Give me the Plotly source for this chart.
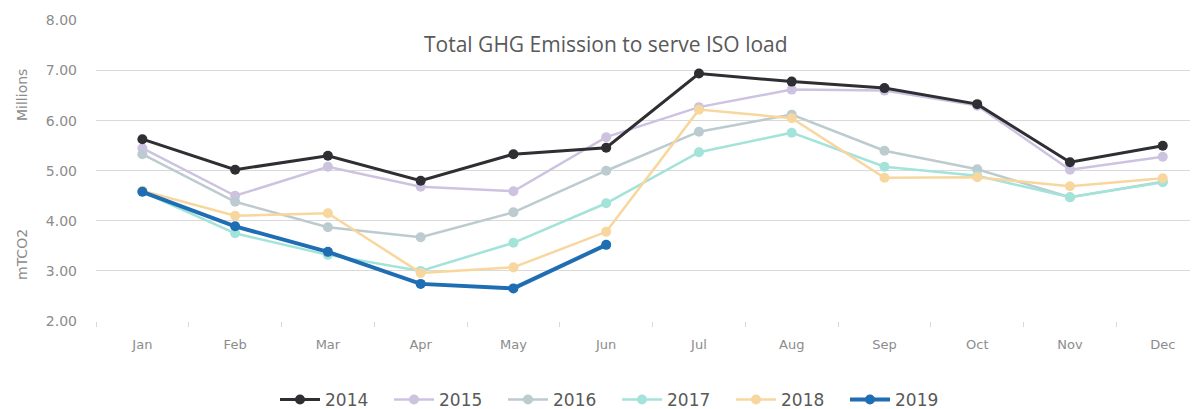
import plotly.graph_objects as go

months = ['Jan', 'Feb', 'Mar', 'Apr', 'May', 'Jun',
          'Jul', 'Aug', 'Sep', 'Oct', 'Nov', 'Dec']

y2014 = [5.63, 5.02, 5.30, 4.80, 5.33, 5.46, 6.94, 6.78, 6.65, 6.33, 5.17, 5.50]
y2015 = [5.45, 4.50, 5.08, 4.68, 4.59, 5.67, 6.27, 6.62, 6.60, 6.30, 5.02, 5.28]
y2016 = [5.33, 4.38, 3.87, 3.67, 4.17, 5.00, 5.78, 6.12, 5.40, 5.03, 4.47, 4.78]
y2017 = [4.58, 3.75, 3.32, 3.00, 3.56, 4.35, 5.37, 5.76, 5.08, 4.90, 4.47, 4.77]
y2018 = [4.60, 4.10, 4.15, 2.96, 3.07, 3.78, 6.22, 6.05, 4.86, 4.87, 4.69, 4.85]
y2019 = [4.58, 3.89, 3.38, 2.74, 2.65, 3.52]

# drawing order: pale years first, dark 2014 last so it sits on top
series = [
    ('2015', y2015, '#cdc3e0', 2.5),
    ('2016', y2016, '#bccbd0', 2.5),
    ('2017', y2017, '#a3e3da', 2.5),
    ('2018', y2018, '#f8d79e', 2.5),
    ('2019', y2019, '#1f6db3', 4),
    ('2014', y2014, '#2e2e33', 3),
]

fig = go.Figure()
for name, vals, color, width in series:
    fig.add_trace(go.Scatter(
        x=months[:len(vals)], y=vals, mode='lines+markers', name=name,
        line=dict(color=color, width=width),
        marker=dict(color=color, size=10),
        legendrank=int(name)
    ))

# the page body shifts the figure by 8px; plot area on the page is
# x 96..1198, y 20..321. Bottom margin is generous so the legend
# never pushes the plot area (the window just crops the rest).
PW, PH = 1102, 301


def px(x):
    return (x - 96) / PW


def py(y):
    return (321 - y) / PH


fig.update_layout(
    width=1190, height=420,
    margin=dict(l=88, r=0, t=12, b=107),
    paper_bgcolor='white', plot_bgcolor='white',
    font=dict(family='DejaVu Sans, sans-serif', color='#8c8c8c'),
    showlegend=True,
    legend=dict(
        orientation='h', x=px(617), xanchor='center', y=py(400), yanchor='middle',
        font=dict(size=17, color='#595959'), itemwidth=40,
        entrywidth=59, traceorder='normal'
    ),
    xaxis=dict(
        range=[-0.5, 11.38], showgrid=False, showline=False,
        ticks='outside', tickson='boundaries', ticklen=5, tickcolor='#d9d9d9',
        tickfont=dict(size=13, color='#8c8c8c'), ticklabelstandoff=14
    ),
    yaxis=dict(
        range=[1.999, 8.01], dtick=1, tickformat='.2f',
        gridcolor='#d9d9d9', gridwidth=1, zeroline=False,
        tickfont=dict(size=14, color='#8c8c8c'), ticklabelstandoff=18
    ),
    annotations=[
        dict(text='Total GHG Emission to serve ISO load', xref='paper', yref='paper',
             x=px(606), y=py(44), xanchor='center', yanchor='middle', showarrow=False,
             font=dict(family='Open Sans, sans-serif', size=21, color='#595959')),
        dict(text='Millions', xref='paper', yref='paper', textangle=-90,
             x=px(22), y=py(95), xanchor='center', yanchor='middle', showarrow=False,
             font=dict(size=14, color='#8c8c8c')),
        dict(text='mTCO2', xref='paper', yref='paper', textangle=-90,
             x=px(22), y=py(255), xanchor='center', yanchor='middle', showarrow=False,
             font=dict(size=14, color='#8c8c8c')),
    ]
)

fig.write_html("out.html")
